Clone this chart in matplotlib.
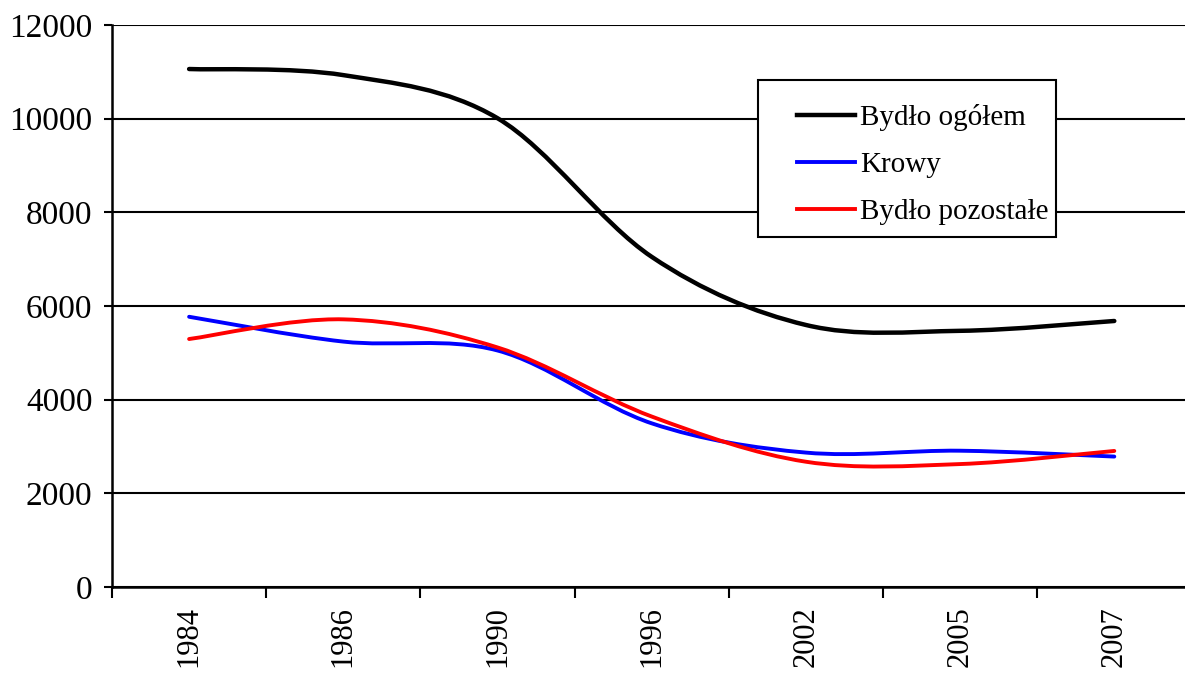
import matplotlib
matplotlib.use("Agg")
import matplotlib.pyplot as plt
from matplotlib.path import Path
from matplotlib.patches import PathPatch, Rectangle
from matplotlib.lines import Line2D
from matplotlib.ticker import FixedLocator, NullFormatter, FixedFormatter

plt.rcParams['font.family'] = ['Liberation Serif', 'DejaVu Serif']

years = ["1984", "1986", "1990", "1996", "2002", "2005", "2007"]
bydlo_ogolem = [11060, 10930, 10010, 7050, 5595, 5470, 5680]
krowy = [5770, 5240, 5050, 3495, 2870, 2910, 2785]
bydlo_pozostale = [5295, 5715, 5115, 3640, 2675, 2625, 2905]

series = [
    ("Bydło ogółem", bydlo_ogolem, "#000000", 3.2),
    ("Krowy", krowy, "#0000ff", 2.8),
    ("Bydło pozostałe", bydlo_pozostale, "#ff0000", 2.8),
]


def smooth_path(xs, ys):
    """Cubic Bezier path through the points (spreadsheet-style smoothing)."""
    n = len(xs)
    px = [xs[0]] + list(xs) + [xs[-1]]
    py = [ys[0]] + list(ys) + [ys[-1]]
    verts = [(xs[0], ys[0])]
    codes = [Path.MOVETO]
    for i in range(n - 1):
        j = i + 1
        c1 = (px[j] + (px[j + 1] - px[j - 1]) / 6, py[j] + (py[j + 1] - py[j - 1]) / 6)
        c2 = (px[j + 1] - (px[j + 2] - px[j]) / 6, py[j + 1] - (py[j + 2] - py[j]) / 6)
        verts += [c1, c2, (px[j + 1], py[j + 1])]
        codes += [Path.CURVE4] * 3
    return Path(verts, codes)


W, H = 1185, 673
fig = plt.figure(figsize=(W / 100, H / 100), dpi=100)
ax = fig.add_axes([112 / W, 86 / H, 1079.4 / W, 562 / H])

x = list(range(len(years)))
handles = []
for label, vals, color, lw in series:
    patch = PathPatch(smooth_path(x, vals), facecolor="none", edgecolor=color,
                      linewidth=lw, capstyle="round", joinstyle="round", zorder=3)
    ax.add_patch(patch)
    handles.append(Line2D([], [], color=color, linewidth=lw, label=label))

ax.set_xlim(-0.5, len(years) - 0.5)
ax.set_ylim(0, 12000)

# y axis
ax.set_yticks(range(0, 12001, 2000))
ax.yaxis.grid(True, color="black", linewidth=1.5)
ax.set_axisbelow(True)
ax.tick_params(axis="y", direction="out", length=6, width=1.5, pad=8,
               labelsize=24, colors="black")

# x axis: tick marks between categories, labels centred on categories
ax.xaxis.set_major_locator(FixedLocator([i - 0.5 for i in range(len(years) + 1)]))
ax.xaxis.set_major_formatter(NullFormatter())
ax.xaxis.set_minor_locator(FixedLocator(x))
ax.xaxis.set_minor_formatter(FixedFormatter(years))
ax.tick_params(axis="x", which="major", direction="out", length=8, width=1.5)
ax.tick_params(axis="x", which="minor", length=0, pad=14, labelsize=22,
               labelrotation=90)

for side in ("top", "right"):
    ax.spines[side].set_visible(False)
for side in ("left", "bottom"):
    ax.spines[side].set_linewidth(1.8)
    ax.spines[side].set_color("black")

# legend box and entries
fig.add_artist(Rectangle((758 / W, 1 - 237 / H), (1056 - 758) / W, (237 - 80) / H,
                         transform=fig.transFigure, facecolor="white",
                         edgecolor="black", linewidth=1.5, zorder=4))
leg = fig.legend(handles=handles, loc="upper left",
                 bbox_to_anchor=(797 / W, 1 - 104 / H),
                 bbox_transform=fig.transFigure, borderaxespad=0,
                 fontsize=21, handlelength=1.99, handletextpad=0.17,
                 labelspacing=0.71, borderpad=0, frameon=False)
leg.set_zorder(5)

fig.savefig("out.png", dpi=100, facecolor="white")
